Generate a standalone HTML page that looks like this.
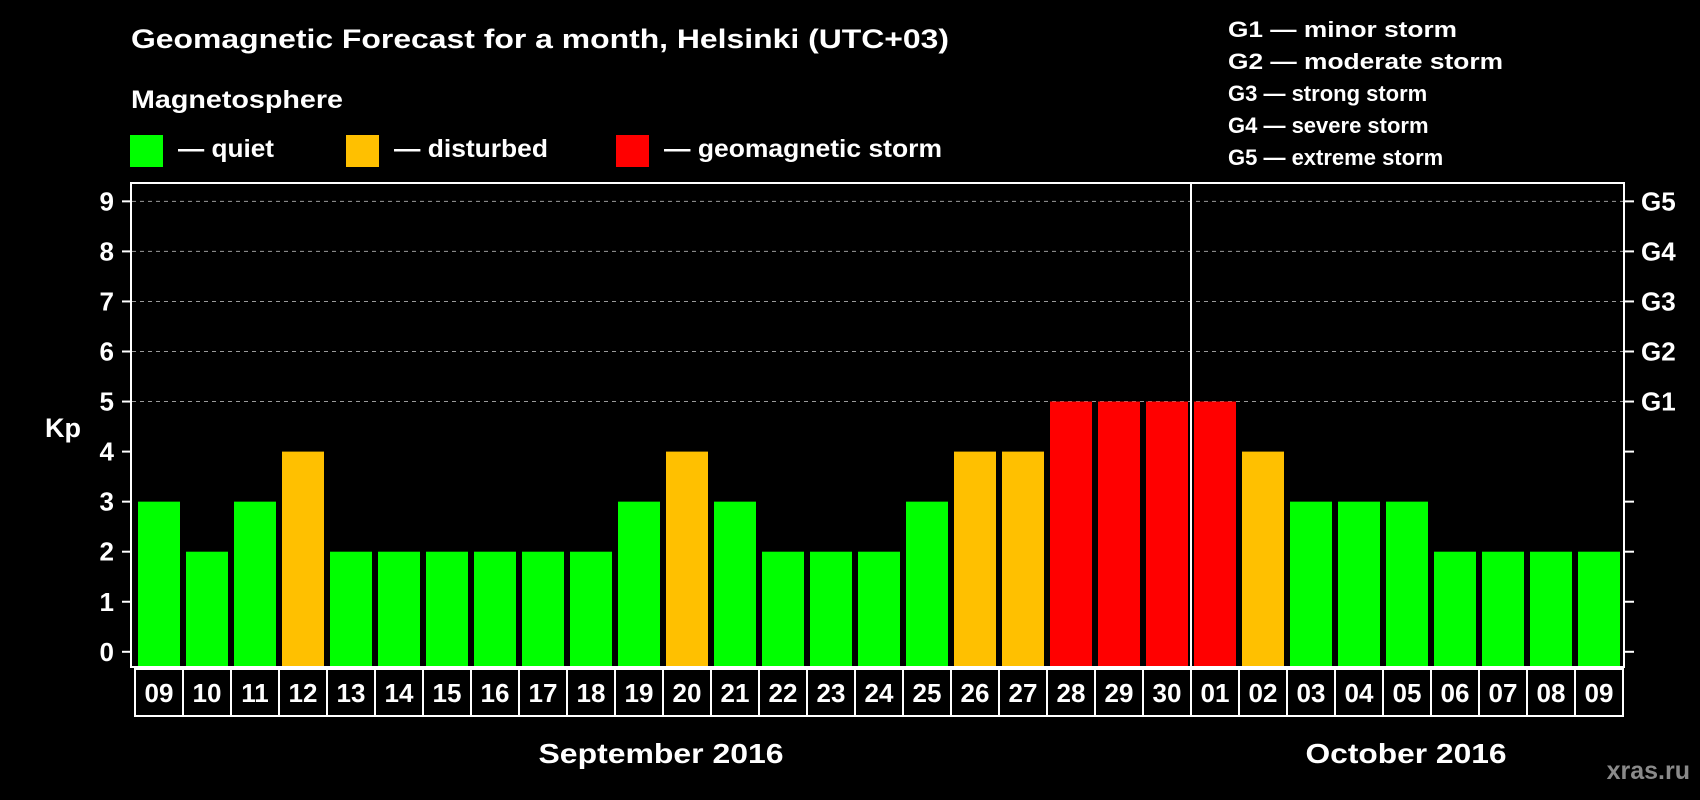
<!DOCTYPE html>
<html><head><meta charset="utf-8"><style>
html,body{margin:0;padding:0;background:#000;}
svg{display:block;font-family:"Liberation Sans",sans-serif;font-weight:bold;}
</style></head><body>
<svg id="chart" width="1700" height="800" viewBox="0 0 1700 800">
<rect width="1700" height="800" fill="#000"/>
<text x="131" y="48" font-size="27" fill="#fff" textLength="818" lengthAdjust="spacingAndGlyphs">Geomagnetic Forecast for a month, Helsinki (UTC+03)</text>
<text x="131" y="108" font-size="25" fill="#fff" textLength="212" lengthAdjust="spacingAndGlyphs">Magnetosphere</text>
<rect x="130" y="135" width="33" height="32" fill="#00ff00"/>
<text x="178" y="157" font-size="25" fill="#fff" textLength="96" lengthAdjust="spacingAndGlyphs">— quiet</text>
<rect x="346" y="135" width="33" height="32" fill="#ffc000"/>
<text x="394" y="157" font-size="25" fill="#fff" textLength="154" lengthAdjust="spacingAndGlyphs">— disturbed</text>
<rect x="616" y="135" width="33" height="32" fill="#ff0000"/>
<text x="664" y="157" font-size="25" fill="#fff" textLength="278" lengthAdjust="spacingAndGlyphs">— geomagnetic storm</text>
<g font-size="22" fill="#fff">
<text x="1228" y="37" textLength="229" lengthAdjust="spacingAndGlyphs">G1 — minor storm</text>
<text x="1228" y="69" textLength="275" lengthAdjust="spacingAndGlyphs">G2 — moderate storm</text>
<text x="1228" y="101">G3 — strong storm</text>
<text x="1228" y="133">G4 — severe storm</text>
<text x="1228" y="165">G5 — extreme storm</text>
</g>
<g id="grid"></g>
<g id="bars"></g>
<g id="axes"></g>
<rect x="131" y="183" width="1493" height="484" fill="none" stroke="#fff" stroke-width="2"/>
<line x1="1191" y1="183" x2="1191" y2="667" stroke="#fff" stroke-width="2"/>
<text x="63" y="437" font-size="27" fill="#fff" text-anchor="middle">Kp</text>
<text x="661" y="763" font-size="28" fill="#fff" text-anchor="middle" textLength="245" lengthAdjust="spacingAndGlyphs">September 2016</text>
<text x="1406" y="763" font-size="28" fill="#fff" text-anchor="middle" textLength="201" lengthAdjust="spacingAndGlyphs">October 2016</text>
<text x="1690" y="779" font-size="25" fill="#8a8a8a" text-anchor="end">xras.ru</text>
</svg>
<script>
const days = ["09","10","11","12","13","14","15","16","17","18","19","20","21","22","23","24","25","26","27","28","29","30","01","02","03","04","05","06","07","08","09"];
const kpValues = [3,2,3,4,2,2,2,2,2,2,3,4,3,2,2,2,3,4,4,5,5,5,5,4,3,3,3,2,2,2,2];
const yTicks = [0,1,2,3,4,5,6,7,8,9];
const gLabels = ["G1","G2","G3","G4","G5"];
const gLevels = [5,6,7,8,9];

const NS = "http://www.w3.org/2000/svg";
const x0 = 135, slot = 48, barW = 42;
function xPos(i){ return x0 + i*slot; }
function yPos(v){ return 651.8 - v*50.05; }
function colorFor(v){ return v >= 5 ? "#ff0000" : (v >= 4 ? "#ffc000" : "#00ff00"); }
function mk(tag, attrs, parent){ const e = document.createElementNS(NS, tag); for (const k in attrs) e.setAttribute(k, attrs[k]); parent.appendChild(e); return e; }

const grid = document.getElementById("grid");
const bars = document.getElementById("bars");
const axes = document.getElementById("axes");

gLevels.forEach((lv, j) => {
  const y = yPos(lv);
  const gl = mk("line", {x1:132, x2:1623, y1:y, y2:y, stroke:"#9a9a9a", "stroke-width":1, "stroke-dasharray":"4,4"}, grid);
  
  
  const t = mk("text", {x:1641, y:y+9, "font-size":26, fill:"#fff"}, axes);
  t.textContent = gLabels[j];
  
  
});

yTicks.forEach(v => {
  const y = yPos(v);
  const tl = mk("line", {x1:122, x2:131, y1:y, y2:y, stroke:"#fff", "stroke-width":2}, axes);
  
  
  const tr = mk("line", {x1:1624, x2:1634, y1:y, y2:y, stroke:"#fff", "stroke-width":2}, axes);
  
  
  const t = mk("text", {x:114, y:y+9, "font-size":26, fill:"#fff", "text-anchor":"end"}, axes);
  t.textContent = String(v);
  
  
});

kpValues.forEach((v, i) => {
  const x = xPos(i) + 3;
  const r = mk("rect", {x:x, y:yPos(v), width:barW, height:667 - yPos(v), fill:colorFor(v)}, bars);
  
  
  const c = mk("rect", {x:xPos(i), y:669, width:slot, height:47, fill:"none", stroke:"#fff", "stroke-width":2}, axes);
  
  
  const t = mk("text", {x:xPos(i)+slot/2, y:702, "font-size":26, fill:"#fff", "text-anchor":"middle"}, axes);
  t.textContent = days[i];
  
  
});
</script>
</body></html>
